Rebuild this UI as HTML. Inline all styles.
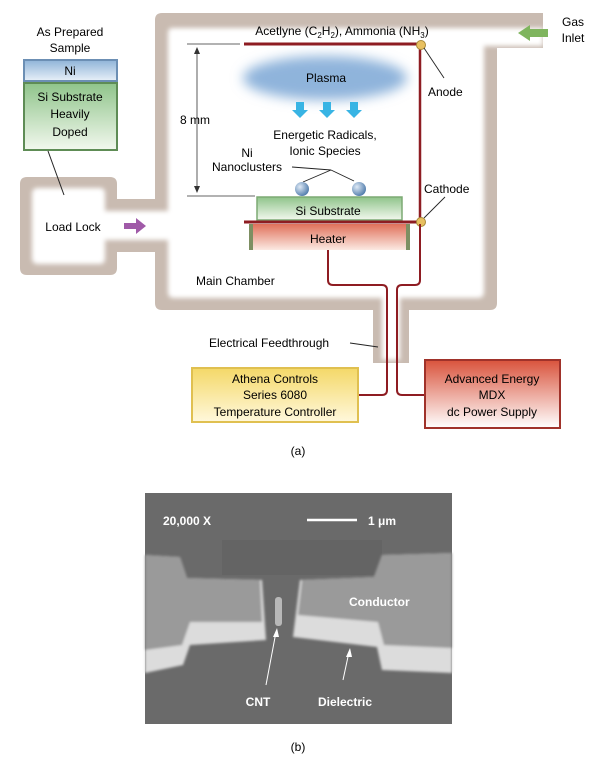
<!DOCTYPE html>
<html><head><meta charset="utf-8"><style>
html,body{margin:0;padding:0;background:#fff;}
svg{display:block;font-family:"Liberation Sans",sans-serif;}
</style></head><body>
<svg width="606" height="763" viewBox="0 0 606 763" xmlns="http://www.w3.org/2000/svg">
<defs>
<filter id="bl" x="-20%" y="-20%" width="140%" height="140%"><feGaussianBlur stdDeviation="2.5"/></filter>
<filter id="bl2" x="-30%" y="-30%" width="160%" height="160%"><feGaussianBlur stdDeviation="6"/></filter>
<filter id="bl3"><feGaussianBlur stdDeviation="1.2"/></filter>
<linearGradient id="gNi" x1="0" y1="0" x2="0" y2="1"><stop offset="0" stop-color="#8fb4d8"/><stop offset="1" stop-color="#e8f0f8"/></linearGradient>
<linearGradient id="gSi" x1="0" y1="0" x2="0" y2="1"><stop offset="0" stop-color="#8fc48a"/><stop offset="1" stop-color="#f2f8ee"/></linearGradient>
<linearGradient id="gH" x1="0" y1="0" x2="0" y2="1"><stop offset="0" stop-color="#e0705a"/><stop offset="1" stop-color="#fbe9e2"/></linearGradient>
<linearGradient id="gA" x1="0" y1="0" x2="0" y2="1"><stop offset="0" stop-color="#f4d868"/><stop offset="1" stop-color="#fff8dc"/></linearGradient>
<linearGradient id="gE" x1="0" y1="0" x2="0" y2="1"><stop offset="0" stop-color="#d9533c"/><stop offset="1" stop-color="#fff"/></linearGradient>
<radialGradient id="gS" cx="0.35" cy="0.35" r="0.7"><stop offset="0" stop-color="#dfeaf6"/><stop offset="1" stop-color="#4f7bab"/></radialGradient>
</defs>

<path d="M162,13 H543 V48 H497 V303 Q497,310 490,310 H409 V363 H373 V310 H162 Q155,310 155,303 V252 H117 V268 Q117,275 110,275 H27 Q20,275 20,268 V184 Q20,177 27,177 H110 Q117,177 117,184 V199 H155 V20 Q155,13 162,13 Z" fill="#c9bbb1"/>
<path d="M172,28 H543 V46 H484 V292 Q484,298 478,298 H400 V360 H382 V298 H174 Q168,298 168,292 V240 H105 V258 Q105,264 100,264 H38 Q32,264 32,258 V194 Q32,188 38,188 H100 Q105,188 105,194 V211 H168 V34 Q168,28 172,28 Z" fill="#fff" filter="url(#bl)"/>

<text x="573" y="26" font-size="12" text-anchor="middle">Gas</text>
<text x="573" y="42" font-size="12" text-anchor="middle">Inlet</text>
<polygon points="518,33 530,25 530,29 548,29 548,37 530,37 530,41" fill="#7fb55e"/>

<text x="70" y="36" font-size="12" text-anchor="middle">As Prepared</text>
<text x="70" y="52" font-size="12" text-anchor="middle">Sample</text>
<rect x="24" y="60" width="93" height="21" fill="url(#gNi)" stroke="#6c8fb4" stroke-width="2"/>
<text x="70" y="75" font-size="12" text-anchor="middle">Ni</text>
<rect x="24" y="83" width="93" height="67" fill="url(#gSi)" stroke="#5e8c55" stroke-width="2"/>
<text x="70" y="101" font-size="12" text-anchor="middle">Si Substrate</text>
<text x="70" y="118" font-size="12" text-anchor="middle">Heavily</text>
<text x="70" y="136" font-size="12" text-anchor="middle">Doped</text>
<line x1="48" y1="151" x2="64" y2="195" stroke="#222" stroke-width="1"/>
<text x="73" y="231" font-size="12" text-anchor="middle">Load Lock</text>
<polygon points="124,223 136,223 136,218 146,226 136,234 136,229 124,229" fill="#a05aa8"/>

<text x="342" y="35" font-size="12" text-anchor="middle">Acetlyne (C<tspan font-size="8" dy="3">2</tspan><tspan dy="-3">H</tspan><tspan font-size="8" dy="3">2</tspan><tspan dy="-3">), Ammonia (NH</tspan><tspan font-size="8" dy="3">3</tspan><tspan dy="-3">)</tspan></text>

<line x1="187" y1="44" x2="240" y2="44" stroke="#333" stroke-width="0.8"/>
<line x1="187" y1="196" x2="255" y2="196" stroke="#333" stroke-width="0.8"/>
<line x1="197" y1="48" x2="197" y2="192" stroke="#333" stroke-width="0.8"/>
<polygon points="197,47 194,54 200,54" fill="#333"/>
<polygon points="197,193 194,186 200,186" fill="#333"/>
<text x="180" y="124" font-size="12">8 mm</text>

<line x1="244" y1="44" x2="420" y2="44" stroke="#8e1c22" stroke-width="3"/>
<line x1="420" y1="44" x2="420" y2="222" stroke="#8e1c22" stroke-width="2.5"/>

<ellipse cx="325" cy="78" rx="82" ry="22" fill="#8fb4db" filter="url(#bl2)"/>
<text x="326" y="82" font-size="12" text-anchor="middle">Plasma</text>
<g fill="#38b4e4">
<polygon points="296,102 304,102 304,110 308,110 300,118 292,110 296,110"/>
<polygon points="323,102 331,102 331,110 335,110 327,118 319,110 323,110"/>
<polygon points="350,102 358,102 358,110 362,110 354,118 346,110 350,110"/>
</g>
<text x="325" y="139" font-size="12" text-anchor="middle">Energetic Radicals,</text>
<text x="325" y="155" font-size="12" text-anchor="middle">Ionic Species</text>
<text x="247" y="157" font-size="12" text-anchor="middle">Ni</text>
<text x="247" y="171" font-size="12" text-anchor="middle">Nanoclusters</text>
<polyline points="292,167 331,170 303,182" fill="none" stroke="#222" stroke-width="0.9"/>
<line x1="331" y1="170" x2="354" y2="181" stroke="#222" stroke-width="0.9"/>
<circle cx="302" cy="189" r="7" fill="url(#gS)"/>
<circle cx="359" cy="189" r="7" fill="url(#gS)"/>

<rect x="257" y="197" width="145" height="23" fill="url(#gSi)" stroke="#7daa74" stroke-width="1.5"/>
<text x="328" y="215" font-size="12" text-anchor="middle">Si Substrate</text>
<rect x="249" y="224" width="161" height="26" fill="url(#gH)"/>
<rect x="249" y="224" width="4" height="26" fill="#7d8f62"/>
<rect x="406" y="224" width="4" height="26" fill="#7d8f62"/>
<line x1="244" y1="222" x2="420" y2="222" stroke="#8e1c22" stroke-width="3"/>
<text x="328" y="243" font-size="12" text-anchor="middle">Heater</text>

<circle cx="421" cy="45" r="4.5" fill="#e8c060" stroke="#a88a3a"/>
<circle cx="421" cy="222" r="4.5" fill="#e8c060" stroke="#a88a3a"/>
<line x1="424" y1="48" x2="444" y2="78" stroke="#222" stroke-width="0.9"/>
<text x="428" y="96" font-size="12">Anode</text>
<line x1="424" y1="218" x2="445" y2="197" stroke="#222" stroke-width="0.9"/>
<text x="424" y="193" font-size="12">Cathode</text>
<text x="196" y="285" font-size="12">Main Chamber</text>

<path d="M328,250 V280 Q328,285 333,285 H382 Q387,285 387,290 V390 Q387,395 382,395 H358" fill="none" stroke="#8e1c22" stroke-width="2"/>
<path d="M420,224 V280 Q420,285 415,285 H402 Q397,285 397,290 V390 Q397,395 402,395 H425" fill="none" stroke="#8e1c22" stroke-width="2"/>

<text x="209" y="347" font-size="12">Electrical Feedthrough</text>
<line x1="350" y1="343" x2="378" y2="347" stroke="#222" stroke-width="0.9"/>

<rect x="192" y="368" width="166" height="54" fill="url(#gA)" stroke="#e0c050" stroke-width="2"/>
<text x="275" y="383" font-size="12" text-anchor="middle">Athena Controls</text>
<text x="275" y="399" font-size="12" text-anchor="middle">Series 6080</text>
<text x="275" y="416" font-size="12" text-anchor="middle">Temperature Controller</text>
<rect x="425" y="360" width="135" height="68" fill="url(#gE)" stroke="#a0322a" stroke-width="2"/>
<text x="492" y="383" font-size="12" text-anchor="middle">Advanced Energy</text>
<text x="492" y="399" font-size="12" text-anchor="middle">MDX</text>
<text x="492" y="416" font-size="12" text-anchor="middle">dc Power Supply</text>
<text x="298" y="455" font-size="12" text-anchor="middle">(a)</text>

<rect x="145" y="493" width="307" height="231" fill="#6a6a6a"/>
<rect x="222" y="540" width="160" height="35" fill="#646464"/>
<g filter="url(#bl3)">
<path d="M145,555 L180,557 L187,578 L262,580 L266,640 L190,645 L183,665 L145,673 Z" fill="#dcdcdc"/>
<path d="M145,555 L180,557 L187,578 L260,580 L262,622 L190,622 L182,645 L145,650 Z" fill="#9a9a9a"/>
<path d="M452,553 L382,555 L374,577 L300,580 L293,637 L377,647 L382,670 L452,673 Z" fill="#dcdcdc"/>
<path d="M452,553 L382,555 L374,577 L302,580 L298,615 L378,622 L384,645 L452,648 Z" fill="#9a9a9a"/>
</g>
<rect x="275" y="597" width="7" height="29" rx="3" fill="#b8b8b8"/>
<text x="163" y="525" font-size="12" font-weight="bold" fill="#fff">20,000 X</text>
<line x1="307" y1="520" x2="357" y2="520" stroke="#fff" stroke-width="2.5"/>
<text x="368" y="525" font-size="12" font-weight="bold" fill="#fff">1 μm</text>
<text x="349" y="606" font-size="12" font-weight="bold" fill="#fff">Conductor</text>
<line x1="266" y1="685" x2="276" y2="632" stroke="#fff" stroke-width="1"/>
<polygon points="277,628 273,637 279,637" fill="#fff"/>
<line x1="343" y1="680" x2="349" y2="652" stroke="#fff" stroke-width="1"/>
<polygon points="350,648 346,657 352,657" fill="#fff"/>
<text x="258" y="706" font-size="12" font-weight="bold" fill="#fff" text-anchor="middle">CNT</text>
<text x="345" y="706" font-size="12" font-weight="bold" fill="#fff" text-anchor="middle">Dielectric</text>
<text x="298" y="751" font-size="12" text-anchor="middle">(b)</text>
</svg>
</body></html>
